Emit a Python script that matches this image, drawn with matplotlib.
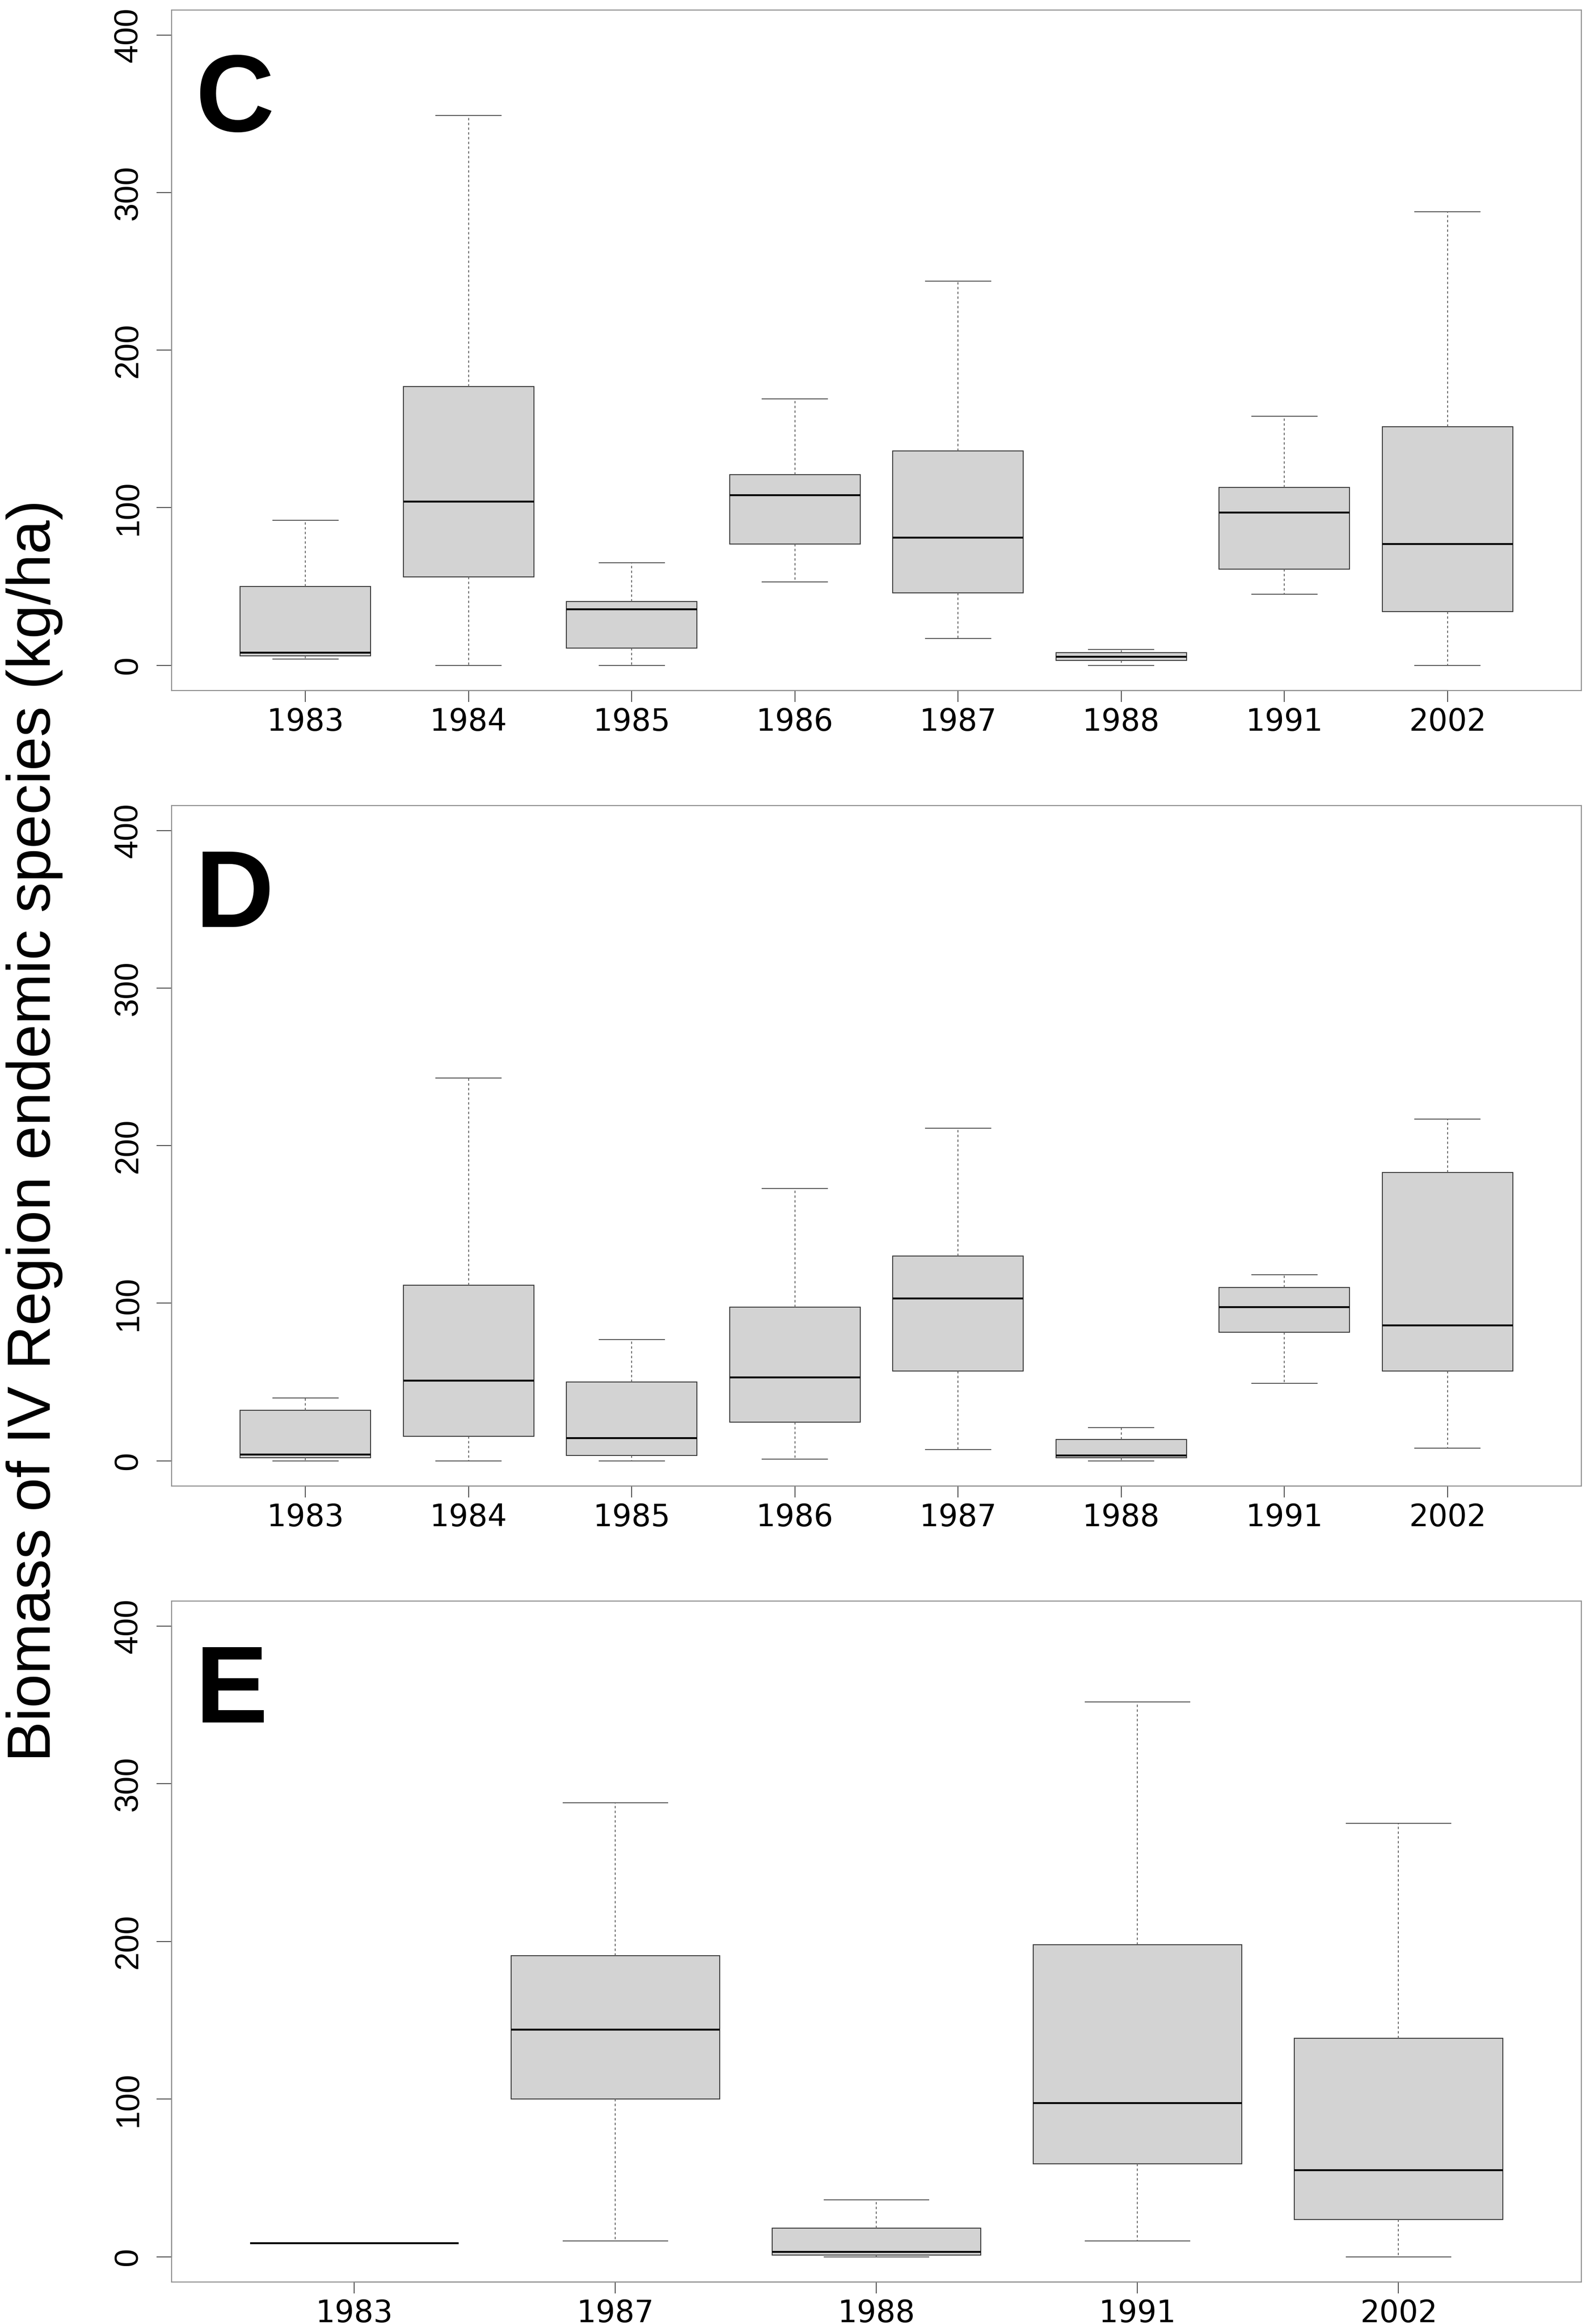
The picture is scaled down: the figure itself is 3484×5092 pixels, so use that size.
import matplotlib

matplotlib.use("Agg")
import matplotlib.pyplot as plt

# panel C / D: eight sampling years
years_cd = ["1983", "1984", "1985", "1986", "1987", "1988", "1991", "2002"]

c_low = [4, 0, 0, 53, 17, 0, 45, 0]
c_q1 = [6, 56, 11, 77, 46, 3, 61, 34]
c_med = [8, 104, 35.5, 108, 81, 5.5, 97, 77]
c_q3 = [50, 177, 40.5, 121, 136, 8, 113, 151.5]
c_high = [92, 349, 65, 169, 244, 10, 158, 288]

d_low = [0, 0, 0, 1, 7, 0, 49, 8]
d_q1 = [2, 15.5, 3.5, 24.5, 57, 2, 81.5, 57]
d_med = [4, 51, 14.5, 53, 103, 3.5, 97.5, 86]
d_q3 = [32, 111.5, 50, 97.5, 130, 13.5, 110, 183]
d_high = [40, 243, 77, 173, 211, 21, 118, 217]

# panel E: five years
years_e = ["1983", "1987", "1988", "1991", "2002"]
e_low = [8.5, 10, 0, 10, 0]
e_q1 = [8.5, 100, 1, 59, 23.5]
e_med = [8.5, 144, 3, 97.5, 55]
e_q3 = [8.5, 191, 18, 198, 138.5]
e_high = [8.5, 288, 36, 352, 275]

yticks = [0, 100, 200, 300, 400]
ylabel = "Biomass of IV Region endemic species (kg/ha)"

FRAME = "#8c8c8c"
AXIS = "#4d4d4d"


def make_stats(labels, low, q1, med, q3, high):
    return [dict(label=l, whislo=a, q1=b, med=c, q3=d, whishi=e, fliers=[])
            for l, a, b, c, d, e in zip(labels, low, q1, med, q3, high)]


def draw_panel(ax, letter, labels, low, q1, med, q3, high):
    n = len(labels)
    pos = list(range(1, n + 1))
    ax.bxp(make_stats(labels, low, q1, med, q3, high), positions=pos,
           widths=0.8, patch_artist=True, showfliers=False,
           boxprops=dict(facecolor="#d3d3d3", edgecolor="#3a3a3a", linewidth=1.5),
           medianprops=dict(color="black", linewidth=3),
           whiskerprops=dict(color="#666666", linewidth=1.5,
                             linestyle=(0, (2.5, 2.5))),
           capprops=dict(color="#555555", linewidth=1.5))
    # R style extended limits (4 %)
    ax.set_xlim(0.5 - 0.04 * n, n + 0.5 + 0.04 * n)
    ax.set_ylim(-16, 416)
    ax.set_yticks(yticks)
    ax.set_xticks(pos)
    ax.set_xticklabels(labels, family="DejaVu Sans", fontsize=48)
    ax.set_yticklabels([str(v) for v in yticks],
                       family=["Liberation Sans Narrow", "Liberation Sans"],
                       fontsize=52, rotation=90, va="center")
    for sp in ax.spines.values():
        sp.set_color(FRAME)
        sp.set_linewidth(1.6)
    ax.tick_params(axis="y", length=24, width=1.5, color=AXIS, pad=20)
    ax.tick_params(axis="x", length=18, width=1.5, color=AXIS, pad=8)
    # darker axis lines over the tick range, as R's axis() draws them
    ax.plot([0, 0], [yticks[0], yticks[-1]], transform=ax.get_yaxis_transform(),
            color=AXIS, lw=1.6, clip_on=False)
    ax.plot([pos[0], pos[-1]], [0, 0], transform=ax.get_xaxis_transform(),
            color=AXIS, lw=1.6, clip_on=False)
    ax.text(0.017, 0.938, letter, transform=ax.transAxes, ha="left", va="top",
            fontsize=172, fontweight="bold", family="Liberation Sans")


fig = plt.figure(figsize=(34.84, 50.92), dpi=100)
left, width = 0.1079, 0.8866
ax_c = fig.add_axes([left, 0.7029, width, 0.2928])
ax_d = fig.add_axes([left, 0.3606, width, 0.2928])
ax_e = fig.add_axes([left, 0.0181, width, 0.2930])

draw_panel(ax_c, "C", years_cd, c_low, c_q1, c_med, c_q3, c_high)
draw_panel(ax_d, "D", years_cd, d_low, d_q1, d_med, d_q3, d_high)
draw_panel(ax_e, "E", years_e, e_low, e_q1, e_med, e_q3, e_high)

fig.text(0.0217, 0.5135, ylabel, rotation=90, ha="center", va="center",
         fontsize=96, family="Liberation Sans")

fig.savefig("out.png", dpi=100, facecolor="white")
